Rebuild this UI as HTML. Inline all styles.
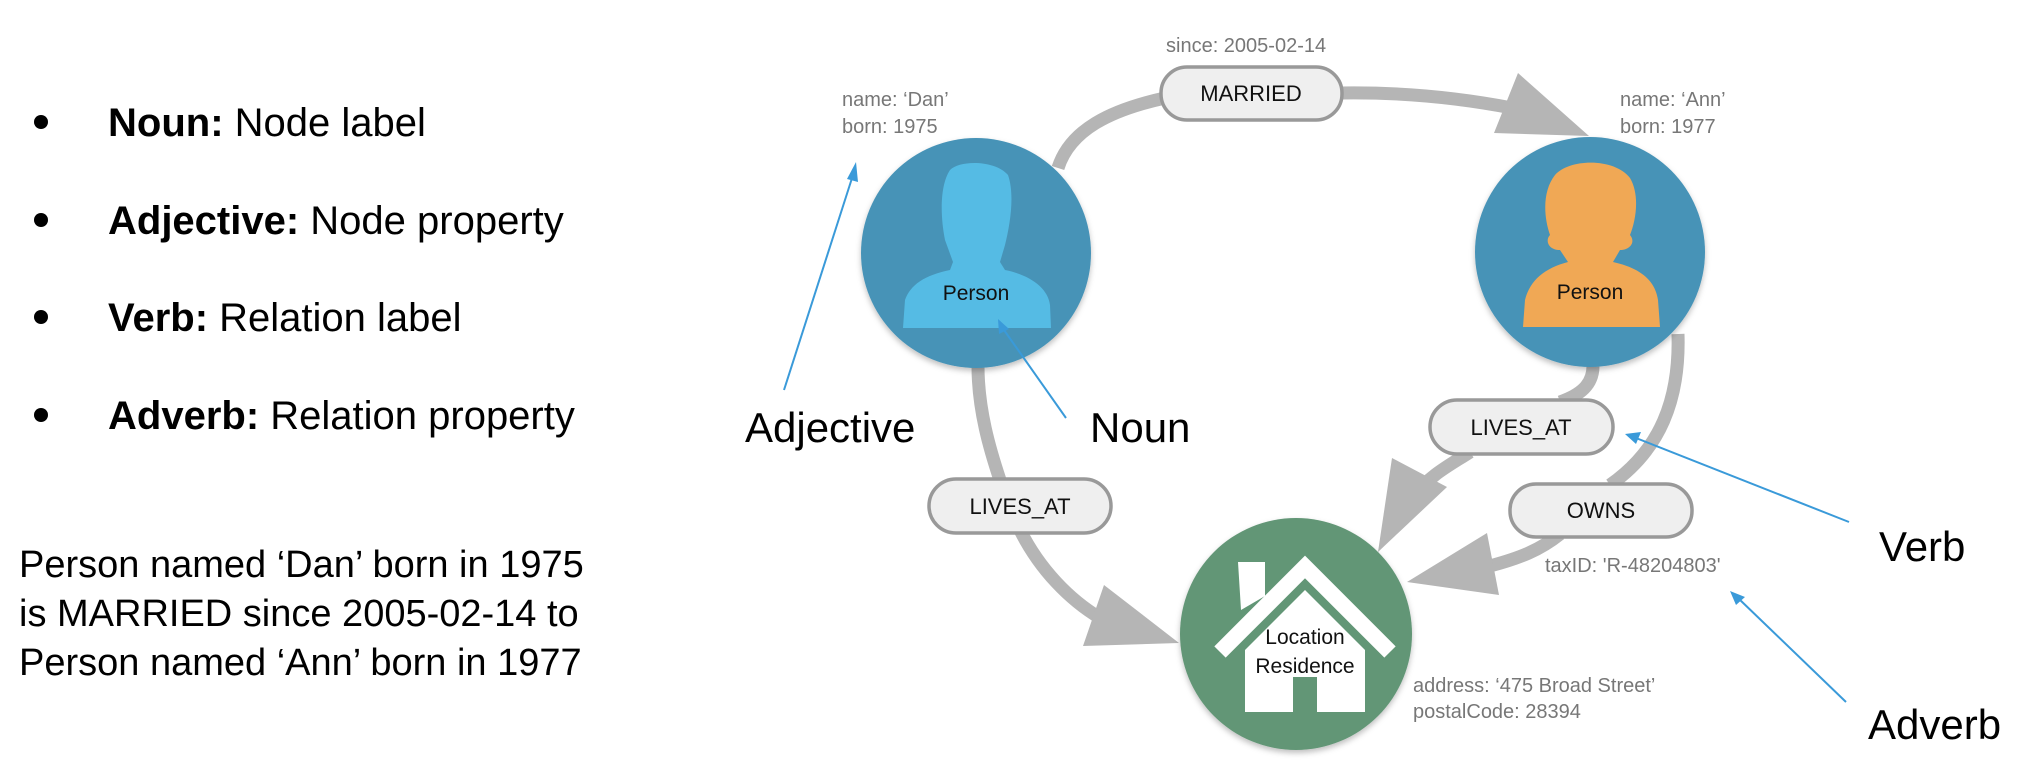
<!DOCTYPE html>
<html><head><meta charset="utf-8"><style>
html,body{margin:0;padding:0;background:#fff;}
svg{display:block;}
</style></head><body>
<svg width="2022" height="764" viewBox="0 0 2022 764" xmlns="http://www.w3.org/2000/svg" font-family="Liberation Sans, sans-serif">
<defs>
<filter id="sh" x="-20%" y="-20%" width="140%" height="140%"><feDropShadow dx="0" dy="3" stdDeviation="3" flood-color="#000" flood-opacity="0.25"/></filter>
</defs>
<!-- left text -->
<g font-size="40" fill="#000">
<circle cx="41" cy="122" r="7"/><circle cx="41" cy="220" r="7"/><circle cx="41" cy="317" r="7"/><circle cx="41" cy="415" r="7"/>
<text x="108" y="136"><tspan font-weight="bold">Noun:</tspan> Node label</text>
<text x="108" y="234"><tspan font-weight="bold">Adjective:</tspan> Node property</text>
<text x="108" y="331"><tspan font-weight="bold">Verb:</tspan> Relation label</text>
<text x="108" y="429"><tspan font-weight="bold">Adverb:</tspan> Relation property</text>
</g>
<g font-size="38" fill="#000">
<text x="19" y="577">Person named ‘Dan’ born in 1975</text>
<text x="19" y="626">is MARRIED since 2005-02-14 to</text>
<text x="19" y="675">Person named ‘Ann’ born in 1977</text>
</g>

<!-- edges -->
<g fill="none" stroke="#b5b5b5" stroke-width="13">
<path d="M1058,168 C1070,130 1110,110 1165,98"/>
<path d="M1340,93 C1400,92 1460,98 1512,108"/>
<path d="M978,366 C978,410 990,450 1000,480"/>
<path d="M1020,530 C1040,570 1070,600 1100,618"/>
<path d="M1593,366 C1593,385 1580,395 1560,402"/>
<path d="M1470,452 C1450,465 1430,475 1415,495"/>
<path d="M1678,334 C1680,400 1660,450 1610,485"/>
<path d="M1560,534 C1540,550 1520,558 1490,566"/>
</g>
<g fill="#b5b5b5">
<polygon points="1518,73 1494,133 1589,136"/>
<polygon points="1104,585 1083,646 1179,643"/>
<polygon points="1392,458 1447,487 1378,552"/>
<polygon points="1487,533 1499,595 1407,582"/>
</g>

<!-- nodes -->
<circle cx="976" cy="253" r="115" fill="#4793b7" filter="url(#sh)"/>
<circle cx="1590" cy="252" r="115" fill="#4793b7" filter="url(#sh)"/>
<circle cx="1296" cy="634" r="116" fill="#629676" filter="url(#sh)"/>

<!-- Dan silhouette -->
<g fill="#55bbe4">
<path d="M950,170 C960,160 995,160 1008,175 C1015,195 1010,225 1005,245 L1000,262 L1005,270 C1030,275 1048,288 1050,305 L1051,328 L903,328 L905,300 C910,285 925,275 950,270 L953,262 L945,240 C940,215 940,185 950,170 Z"/>
</g>
<!-- Ann silhouette -->
<g fill="#f0a855">
<path d="M1555,175 C1570,158 1615,158 1630,178 C1640,195 1636,220 1630,235 C1636,242 1630,250 1620,250 L1613,262 C1640,268 1655,280 1658,300 L1660,327 L1523,327 L1525,300 C1530,280 1545,268 1568,262 L1560,250 C1548,250 1545,240 1550,235 C1543,215 1543,190 1555,175 Z"/>
</g>
<g font-size="21" fill="#111" text-anchor="middle">
<text x="976" y="300">Person</text>
<text x="1590" y="299">Person</text>
</g>

<!-- house -->
<g fill="#fff">
<polygon points="1238,562 1265,562 1265,596 1241,610"/>
<polyline points="1220,652 1305,567 1390,652" fill="none" stroke="#fff" stroke-width="16"/>
<polygon points="1305,590 1245,650 1245,712 1365,712 1365,650"/>
</g>
<rect x="1293" y="677" width="24" height="35" fill="#629676"/>
<g font-size="21" fill="#111" text-anchor="middle">
<text x="1305" y="644">Location</text>
<text x="1305" y="673">Residence</text>
</g>

<!-- pills -->
<g fill="#efefef" stroke="#999" stroke-width="3.5">
<rect x="1161" y="67" width="181" height="53" rx="26"/>
<rect x="929" y="479" width="182" height="54" rx="27"/>
<rect x="1430" y="400" width="183" height="54" rx="27"/>
<rect x="1510" y="484" width="182" height="53" rx="26"/>
</g>
<g font-size="22" fill="#111" text-anchor="middle">
<text x="1251" y="101">MARRIED</text>
<text x="1020" y="514">LIVES_AT</text>
<text x="1521" y="435">LIVES_AT</text>
<text x="1601" y="518">OWNS</text>
</g>

<!-- property texts -->
<g font-size="20" fill="#777">
<text x="842" y="106">name: ‘Dan’</text>
<text x="842" y="133">born: 1975</text>
<text x="1166" y="52">since: 2005-02-14</text>
<text x="1620" y="106">name: ‘Ann’</text>
<text x="1620" y="133">born: 1977</text>
<text x="1545" y="572">taxID: 'R-48204803'</text>
<text x="1413" y="692">address: ‘475 Broad Street’</text>
<text x="1413" y="718">postalCode: 28394</text>
</g>

<!-- annotation arrows -->
<g stroke="#3a9ad9" stroke-width="2">
<line x1="784" y1="390" x2="853" y2="175"/>
<line x1="1066" y1="418" x2="1004" y2="330"/>
<line x1="1849" y1="522" x2="1636" y2="438"/>
<line x1="1846" y1="702" x2="1738" y2="598"/>
</g>
<g fill="#3a9ad9">
<polygon points="856,162 858,182 847,179"/>
<polygon points="998,319 1009,329 999,334"/>
<polygon points="1625,434 1641,432 1636,444"/>
<polygon points="1730,591 1745,597 1736,605"/>
</g>
<g font-size="42" fill="#000">
<text x="745" y="442">Adjective</text>
<text x="1090" y="442">Noun</text>
<text x="1879" y="561">Verb</text>
<text x="1868" y="739">Adverb</text>
</g>
</svg>
</body></html>
